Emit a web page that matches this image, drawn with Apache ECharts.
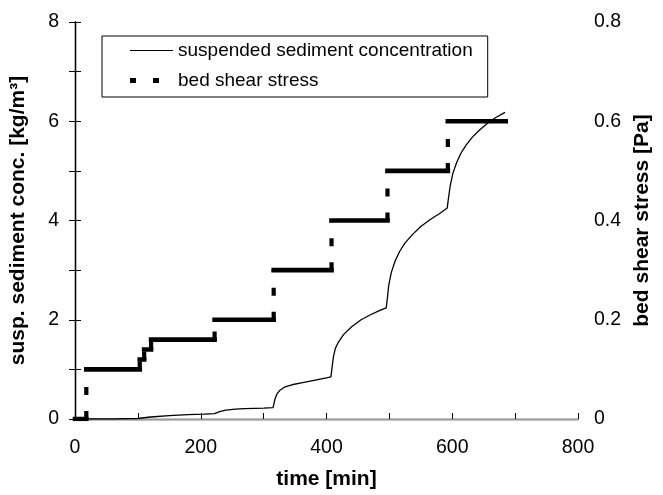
<!DOCTYPE html>
<html>
<head>
<meta charset="utf-8">
<script src="https://cdn.jsdelivr.net/npm/echarts@6/dist/echarts.min.js"></script>
<style>
  html, body { margin: 0; padding: 0; background: #fff; }
  #chart { width: 663px; height: 495px; }
</style>
</head>
<body>
<div id="chart"></div>
<script>
// Suspended sediment concentration [kg/m3] against time [min]
const concTime = [0, 20, 60, 100, 120, 150, 180, 205, 222, 230, 240, 255, 270, 300, 315,
  318, 321, 326, 333, 345, 360, 380, 400, 407,
  409, 411, 414, 419, 427, 440, 455, 470, 485, 495,
  497, 499, 503, 509, 516, 525, 537, 550, 565, 580, 592,
  594, 597, 601, 607, 614, 622, 632, 644, 657, 670, 684];
const concValue = [0, 0, 0, 0.01, 0.04, 0.07, 0.09, 0.1, 0.11, 0.15, 0.18, 0.2, 0.21, 0.22, 0.23,
  0.4, 0.5, 0.58, 0.64, 0.69, 0.73, 0.78, 0.83, 0.85,
  1.05, 1.25, 1.42, 1.55, 1.7, 1.86, 2.0, 2.1, 2.19, 2.24,
  2.45, 2.7, 2.95, 3.18, 3.37, 3.55, 3.72, 3.88, 4.02, 4.14, 4.25,
  4.45, 4.72, 4.95, 5.17, 5.36, 5.52, 5.68, 5.83, 5.97, 6.08, 6.18];

// Bed shear stress [Pa]: level held between successive change times
const stressTimes = [0, 18, 103, 110, 121, 222, 316, 408, 497, 593, 685];
const stressLevels = [0, 0.1, 0.12, 0.14, 0.16, 0.2, 0.3, 0.4, 0.5, 0.6];

// Axis tick label sets
const timeLabels = [0, 200, 400, 600, 800];
const concLabels = [0, 2, 4, 6, 8];
const stressLabels = [0, 0.2, 0.4, 0.6, 0.8];

const concData = concTime.map((t, i) => [t, concValue[i]]);

// Horizontal plateaus (solid) and the vertical changes between them (dashed)
const plateauData = [];
const riserData = [];
stressLevels.forEach((v, i) => {
  plateauData.push([stressTimes[i], v], [stressTimes[i + 1], v], [stressTimes[i + 1], NaN]);
  if (i < stressLevels.length - 1) {
    riserData.push([stressTimes[i + 1], v], [stressTimes[i + 1], stressLevels[i + 1]], [stressTimes[i + 1], NaN]);
  }
});

const FONT = "'Liberation Sans', Arial, sans-serif";
const TICK_FONT = 19.5;
const TITLE_FONT = 21;
const near = (v, list) => list.some(x => Math.abs(x - v) < 1e-6);

const chart = echarts.init(document.getElementById('chart'), null, { renderer: 'canvas' });
chart.setOption({
  animation: false,
  backgroundColor: '#fff',
  textStyle: { fontFamily: FONT, color: '#000' },
  grid: { left: 74, right: 85, top: 22, bottom: 73, containLabel: false },
  legend: {
    orient: 'vertical',
    left: 102,
    top: 36,
    padding: [5, 15, 7, 28],
    itemGap: 11,
    itemWidth: 43,
    itemHeight: 5,
    borderColor: '#000',
    borderWidth: 1,
    selectedMode: false,
    symbolKeepAspect: false,
    textStyle: { fontFamily: FONT, fontSize: 19, color: '#000' },
    data: [
      { name: 'suspended sediment concentration',
        icon: 'path://M0,1.9h43v1.2h-43zM0,0h0.05v0.05h-0.05zM0,4.95h0.05v0.05h-0.05z' },
      { name: 'bed shear stress',
        icon: 'path://M0,0h6v5h-6zM23,0h6v5h-6zM42.95,2.45h0.05v0.05h-0.05z' }
    ]
  },
  xAxis: [
    {
      type: 'value', min: 0, max: 800, interval: 100, position: 'bottom',
      name: 'time [min]', nameLocation: 'middle', nameGap: 50,
      nameTextStyle: { fontFamily: FONT, fontSize: TITLE_FONT, fontWeight: 'bold', color: '#000' },
      axisLine: { show: true, lineStyle: { color: '#000', width: 1.3 } },
      axisTick: { show: true, inside: true, length: 6, lineStyle: { color: '#000' } },
      axisLabel: { fontFamily: FONT, fontSize: TICK_FONT, color: '#000', margin: 19,
        formatter: v => near(v, timeLabels) ? String(v) : '' },
      splitLine: { show: false }
    },
    {
      type: 'value', min: 0, max: 800, position: 'top',
      axisLine: { show: true, lineStyle: { color: '#a0a0a0', width: 1 } },
      axisTick: { show: false }, axisLabel: { show: false }, splitLine: { show: false }
    }
  ],
  yAxis: [
    {
      type: 'value', min: 0, max: 8, interval: 1, position: 'left',
      name: 'susp. sediment conc. [kg/m³]', nameLocation: 'middle', nameGap: 46, nameRotate: 90,
      nameTextStyle: { fontFamily: FONT, fontSize: TITLE_FONT, fontWeight: 'bold', color: '#000' },
      axisLine: { show: true, lineStyle: { color: '#000', width: 1.3 } },
      axisTick: { show: true, inside: true, length: 6, lineStyle: { color: '#000' } },
      axisLabel: { fontFamily: FONT, fontSize: TICK_FONT, color: '#000', margin: 16,
        formatter: v => near(v, concLabels) ? String(v) : '' },
      splitLine: { show: false }
    },
    {
      type: 'value', min: 0, max: 0.8, interval: 0.1, position: 'right',
      name: 'bed shear stress [Pa]', nameLocation: 'middle', nameGap: 52, nameRotate: 90,
      nameTextStyle: { fontFamily: FONT, fontSize: TITLE_FONT, fontWeight: 'bold', color: '#000' },
      axisLine: { show: true, lineStyle: { color: '#000', width: 1.3 } },
      axisTick: { show: true, inside: true, length: 6, lineStyle: { color: '#000' } },
      axisLabel: { fontFamily: FONT, fontSize: TICK_FONT, color: '#000', margin: 16,
        formatter: v => near(v, stressLabels) ? (v === 0 ? '0' : v.toFixed(1)) : '' },
      splitLine: { show: false }
    }
  ],
  series: [
    {
      name: 'suspended sediment concentration', type: 'line',
      xAxisIndex: 0, yAxisIndex: 0, data: concData,
      symbol: 'none', smooth: false, z: 3,
      lineStyle: { color: '#000', width: 1.3 },
      itemStyle: { color: '#000' }
    },
    {
      name: 'bed shear stress', type: 'line',
      xAxisIndex: 0, yAxisIndex: 1, data: plateauData,
      symbol: 'none', connectNulls: false, z: 2,
      lineStyle: { color: '#000', width: 4.6, cap: 'square' },
      itemStyle: { color: '#000' }
    },
    {
      name: 'bed shear stress', type: 'line',
      xAxisIndex: 0, yAxisIndex: 1, data: riserData,
      symbol: 'none', connectNulls: false, z: 2,
      lineStyle: { color: '#000', width: 4.2, type: [8, 16], cap: 'butt' },
      itemStyle: { color: '#000' }
    }
  ]
});
</script>
</body>
</html>
